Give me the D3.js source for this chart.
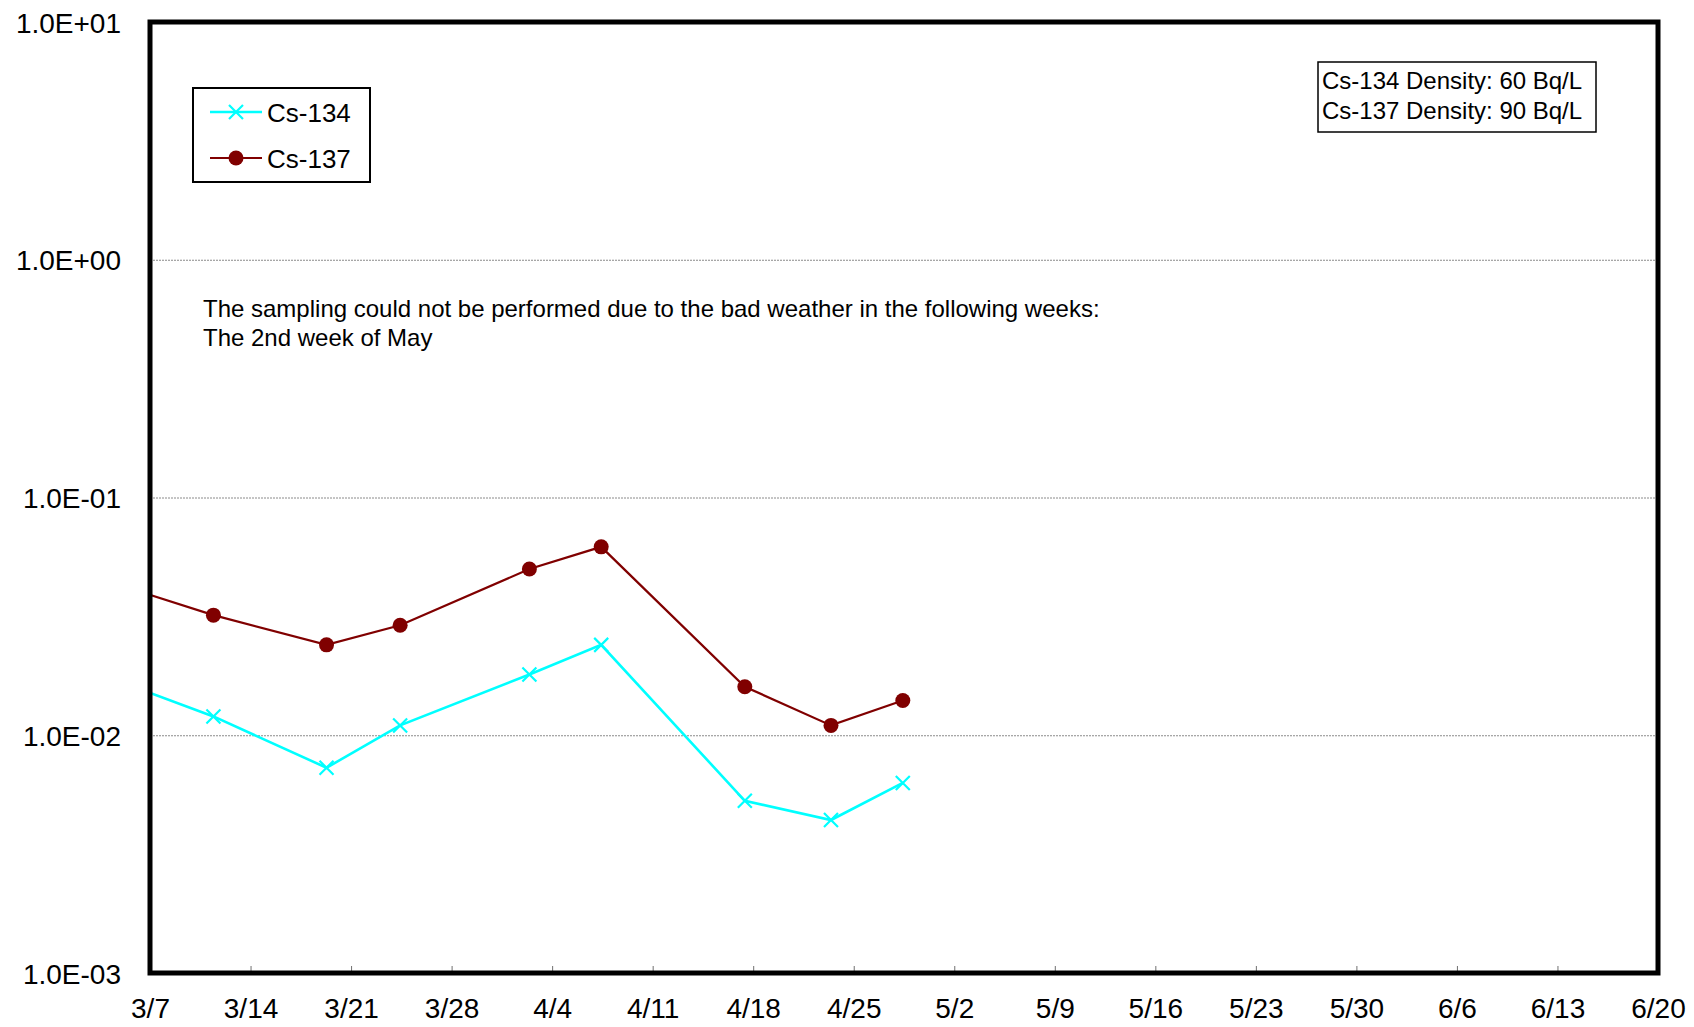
<!DOCTYPE html>
<html><head><meta charset="utf-8">
<script src="https://cdn.jsdelivr.net/npm/d3@7"></script>
<style>
body{margin:0;background:#fff;}
svg{display:block;font-family:"Liberation Sans",Arial,Helvetica,sans-serif;}
</style>
</head><body>
<svg id="chart" width="1694" height="1027"></svg>
<script>
// ---- data ----
const year = 2012;
const sampleDates = ["03-04 10:00","03-11 10:00","03-19 07:00","03-24 10:00","04-02 10:00","04-07 10:00","04-17 10:00","04-23 10:00","04-28 10:00"];
const cs134 = [0.0172, 0.012, 0.0073, 0.011, 0.018, 0.024, 0.0053, 0.0044, 0.0063];
const cs137 = [0.0437, 0.032, 0.024, 0.029, 0.050, 0.062, 0.016, 0.011, 0.014];
const seriesNames = ["Cs-134", "Cs-137"];
const seriesColors = ["#00FFFF", "#800000"];
const xTickLabels = ["3/7","3/14","3/21","3/28","4/4","4/11","4/18","4/25","5/2","5/9","5/16","5/23","5/30","6/6","6/13","6/20"];
const yTickValues = [1e-3, 1e-2, 1e-1, 1e0, 1e1];
const yTickLabels = ["1.0E-03","1.0E-02","1.0E-01","1.0E+00","1.0E+01"];
const gridValues = [1e-2, 1e-1, 1e0];
const densityNotes = ["Cs-134 Density: 60 Bq/L", "Cs-137 Density: 90 Bq/L"];
const noteLines = ["The sampling could not be performed due to the bad weather in the following weeks:", "The 2nd week of May"];

// ---- layout ----
const L = 150, R = 1658, T = 22, B = 973;
const svg = d3.select("#chart");
const parseSample = d3.utcParse("%Y-%m-%d %H:%M");
const parseTick = d3.utcParse("%Y/%m/%d");
const tickDates = xTickLabels.map(s => parseTick(year + "/" + s));

const x = d3.scaleUtc().domain([tickDates[0], tickDates[tickDates.length - 1]]).range([L, R]);
const y = d3.scaleLog().domain([1e-3, 1e1]).range([B, T]);

// gridlines
svg.append("g")
  .attr("transform", `translate(${L},0)`)
  .call(d3.axisLeft(y).tickValues(gridValues).tickSize(-(R - L)).tickFormat(""))
  .call(g => g.select(".domain").remove())
  .call(g => g.selectAll("line").attr("stroke", "#8a8a8a").attr("stroke-width", 1).attr("stroke-dasharray", "2,1"));

// y labels
svg.append("g")
  .attr("transform", `translate(${L},0)`)
  .call(d3.axisLeft(y).tickValues(yTickValues).tickSize(0).tickPadding(29)
        .tickFormat((d, i) => yTickLabels[i]))
  .call(g => g.select(".domain").remove())
  .call(g => g.selectAll("text").attr("font-size", 28).attr("fill", "#000")
        .attr("font-family", "'Liberation Sans',Arial,sans-serif").attr("dy", "0.36em"));

// x axis
svg.append("g")
  .attr("transform", `translate(0,${B})`)
  .call(d3.axisBottom(x).tickValues(tickDates).tickSize(-7).tickPadding(25)
        .tickFormat((d, i) => xTickLabels[i]))
  .call(g => g.select(".domain").remove())
  .call(g => g.selectAll("line").attr("stroke", "#707070").attr("stroke-width", 1))
  .call(g => g.selectAll("text").attr("font-size", 28).attr("fill", "#000")
        .attr("font-family", "'Liberation Sans',Arial,sans-serif"));

// clip
svg.append("defs").append("clipPath").attr("id", "plotclip")
  .append("rect").attr("x", L).attr("y", T).attr("width", R - L).attr("height", B - T);

const rows = sampleDates.map((s, i) => ({ date: parseSample(year + "-" + s), a: cs134[i], b: cs137[i] }));
const plot = svg.append("g").attr("clip-path", "url(#plotclip)");

const lineA = d3.line().x(d => x(d.date)).y(d => y(d.a));
const lineB = d3.line().x(d => x(d.date)).y(d => y(d.b));

plot.append("path").datum(rows).attr("d", lineB).attr("fill", "none")
  .attr("stroke", seriesColors[1]).attr("stroke-width", 2.2);
plot.append("path").datum(rows).attr("d", lineA).attr("fill", "none")
  .attr("stroke", seriesColors[0]).attr("stroke-width", 2.6);

plot.selectAll("circle.m").data(rows).join("circle")
  .attr("class", "m").attr("cx", d => x(d.date)).attr("cy", d => y(d.b))
  .attr("r", 7.5).attr("fill", seriesColors[1]);

const crossPath = (cx, cy, s) => `M${cx - s},${cy - s}L${cx + s},${cy + s}M${cx - s},${cy + s}L${cx + s},${cy - s}`;
plot.selectAll("path.x").data(rows).join("path")
  .attr("class", "x").attr("d", d => crossPath(x(d.date), y(d.a), 7))
  .attr("stroke", seriesColors[0]).attr("stroke-width", 2.2).attr("fill", "none");

// border
svg.append("rect").attr("x", L).attr("y", T).attr("width", R - L).attr("height", B - T)
  .attr("fill", "none").attr("stroke", "#000").attr("stroke-width", 5);

// legend
const lg = svg.append("g");
lg.append("rect").attr("x", 193).attr("y", 88).attr("width", 177).attr("height", 94)
  .attr("fill", "#fff").attr("stroke", "#000").attr("stroke-width", 2);
seriesNames.forEach((name, i) => {
  const ly = 112 + i * 46;
  lg.append("line").attr("x1", 210).attr("x2", 262).attr("y1", ly).attr("y2", ly)
    .attr("stroke", seriesColors[i]).attr("stroke-width", i === 0 ? 2.6 : 2.2);
  if (i === 0) {
    lg.append("path").attr("d", crossPath(236, ly, 7)).attr("stroke", seriesColors[0]).attr("stroke-width", 2.2);
  } else {
    lg.append("circle").attr("cx", 236).attr("cy", ly).attr("r", 7.5).attr("fill", seriesColors[1]);
  }
  lg.append("text").attr("x", 267).attr("y", ly + 9.5).attr("font-size", 26).text(name);
});

// density box
const db = svg.append("g");
db.append("rect").attr("x", 1318).attr("y", 62).attr("width", 278).attr("height", 70)
  .attr("fill", "#fff").attr("stroke", "#000").attr("stroke-width", 1.5);
densityNotes.forEach((t, i) => {
  db.append("text").attr("x", 1322).attr("y", 89 + i * 30).attr("font-size", 24).text(t);
});

// note
noteLines.forEach((t, i) => {
  svg.append("text").attr("x", 203).attr("y", 317 + i * 28.5).attr("font-size", 24).text(t);
});
</script>
</body></html>
